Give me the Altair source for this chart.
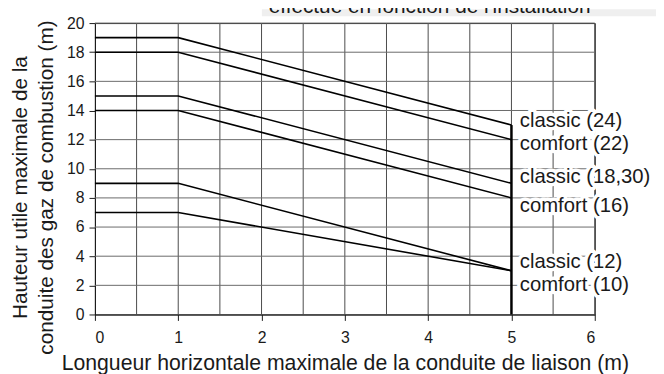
import altair as alt
import pandas as pd

# ---- data ----
x_points = [0, 1, 5]
series_names = ["classic (24)", "comfort (22)", "classic (18,30)",
                "comfort (16)", "classic (12)", "comfort (10)"]
series_values = [
    [19, 19, 13],
    [18, 18, 12],
    [15, 15, 9],
    [14, 14, 8],
    [9, 9, 3],
    [7, 7, 3],
]
label_y = [13.3, 11.7, 9.4, 7.45, 3.6, 2.0]
label_x = 5.1
x_ticks = [0, 1, 2, 3, 4, 5, 6]
y_ticks = [0, 2, 4, 6, 8, 10, 12, 14, 16, 18, 20]
x_grid = [0.5, 1, 1.5, 2, 2.5, 3, 3.5, 4, 4.5, 5, 5.5, 6]
y_grid = [2, 4, 6, 8, 10, 12, 14, 16, 18, 20]
limit_x = [5]
limit_top = [13]
note_text = "effectué en fonction de l'installation"
x_title = "Longueur horizontale maximale de la conduite de liaison (m)"
y_title = ["Hauteur utile maximale de la", "conduite des gaz de combustion (m)"]

FONT = "Liberation Sans"
INK = "#1a1a1a"

# ---- tables ----
rows = []
for name, vals in zip(series_names, series_values):
    for i, (xv, yv) in enumerate(zip(x_points, vals)):
        rows.append({"series": name, "x": xv, "y": yv, "o": i})
lines_df = pd.DataFrame(rows)
labels_df = pd.DataFrame({"series": series_names, "y": label_y, "x": [label_x] * len(series_names)})
vgrid_df = pd.DataFrame({"x": x_grid, "y": [0] * len(x_grid), "y2": [20] * len(x_grid)})
hgrid_df = pd.DataFrame({"y": y_grid, "x": [0] * len(y_grid), "x2": [6] * len(y_grid)})
limit_df = pd.DataFrame({"x": limit_x, "y": [0], "y2": limit_top})
note_df = pd.DataFrame({"t": [note_text]})

xscale = alt.Scale(domain=[0, 6], nice=False, zero=False)
yscale = alt.Scale(domain=[0, 20], nice=False, zero=False)
xaxis = alt.Axis(values=x_ticks, grid=False, tickSize=6, tickColor=INK, domainColor=INK,
                 labelFontSize=16, labelPadding=9, labelColor=INK, format="d",
                 titleFontSize=21.5, titleFontWeight="normal", titleColor=INK,
                 titleY=56, titleBaseline="alphabetic")
yaxis = alt.Axis(values=y_ticks, grid=False, tickSize=6, tickColor=INK, domainColor=INK,
                 labelFontSize=16, labelPadding=5, labelColor=INK, format="d",
                 titleFontSize=21, titleFontWeight="normal", titleColor=INK,
                 titleAngle=270, titleX=-75, titleY=166, titleAlign="center",
                 titleBaseline="middle", titleLineHeight=26)


def X(f):
    return alt.X(f, type="quantitative", scale=xscale, axis=xaxis, title=x_title)


def Y(f):
    return alt.Y(f, type="quantitative", scale=yscale, axis=yaxis, title=y_title)


note_box = alt.Chart(note_df).mark_rect(color="#efefef").encode(
    x=alt.value(169), x2=alt.value(580), y=alt.value(-14), y2=alt.value(-7))
note = alt.Chart(note_df).mark_text(align="left", baseline="alphabetic", fontSize=21,
                                    font=FONT, color=INK).encode(
    x=alt.value(176), y=alt.value(-10), text="t:N")

vgrid = alt.Chart(vgrid_df).mark_rule(color="#4a4a4a", strokeWidth=1).encode(
    x=X("x"), y=Y("y"), y2="y2")
hgrid = alt.Chart(hgrid_df).mark_rule(color="#6a6a6a", strokeWidth=1).encode(
    y=Y("y"), x=X("x"), x2="x2")
lines = alt.Chart(lines_df).mark_line(color="#000000", strokeWidth=1.6).encode(
    x=X("x"), y=Y("y"), detail="series:N", order="o:Q")
limit = alt.Chart(limit_df).mark_rule(color="#000000", strokeWidth=2.5).encode(
    x=X("x"), y=Y("y"), y2="y2")
halo = alt.Chart(labels_df).mark_text(align="left", baseline="middle", fontSize=20.5, font=FONT,
                                      color="white", stroke="white", strokeWidth=7,
                                      strokeJoin="round").encode(
    x=X("x"), y=Y("y"), text="series:N")
labels = alt.Chart(labels_df).mark_text(align="left", baseline="middle", fontSize=20.5, font=FONT,
                                        color=INK).encode(
    x=X("x"), y=Y("y"), text="series:N")

chart = alt.layer(note_box, note, vgrid, hgrid, lines, limit, halo, labels).properties(
    width=506, height=295,
    autosize=alt.AutoSizeParams(type="none"),
    padding={"left": 88, "top": 13, "right": 62, "bottom": 58},
).configure(font=FONT).configure_view(stroke=INK, strokeWidth=1)

chart.save("out.html", embed_options={"renderer": "svg", "actions": False})
